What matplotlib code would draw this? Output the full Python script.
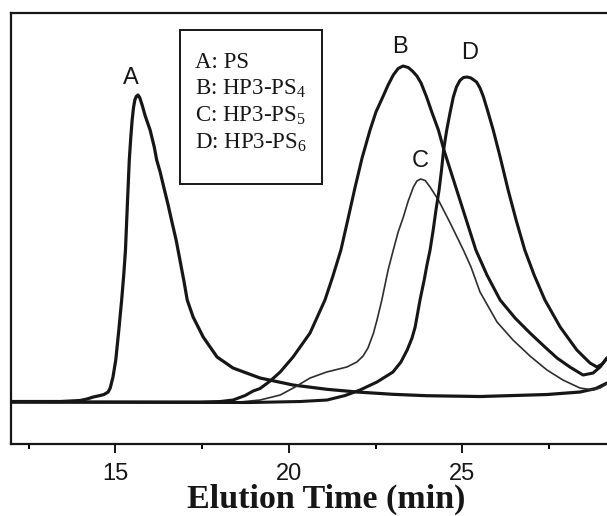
import matplotlib
matplotlib.use("Agg")
import matplotlib.pyplot as plt
from matplotlib.patches import Rectangle

# ---- data (elution time in min, detector signal in arbitrary units) ----
time_A = [12.00, 13.41, 13.98, 14.18, 14.36, 14.56, 14.67, 14.79, 14.85, 14.93, 15.01, 15.09,
          15.18, 15.24, 15.29, 15.35, 15.40, 15.44, 15.48, 15.52, 15.56, 15.60, 15.65, 15.70,
          15.77, 15.86, 16.00, 16.12, 16.19, 16.29, 16.40, 16.52, 16.63, 16.75, 16.86, 16.98,
          17.07, 17.24, 17.53, 17.93, 18.39, 19.17, 20.12, 21.10, 21.97, 23.00, 23.98, 25.51,
          27.44, 28.39, 28.85, 29.17]
signal_A = [0.5, 0.5, 1.5, 3, 5, 6.5, 7.5, 10, 14, 25, 42, 69,
            102, 127, 152, 202, 242, 263, 281, 294, 302, 305.5, 307, 304.5,
            297, 286, 272, 255, 242, 230, 214, 197, 180, 162, 142, 120,
            102, 85, 65, 45, 34, 24, 17, 12.7, 10, 7.7, 6.3, 5.5,
            7.5, 10, 13.5, 19]

time_B = [12.00, 16.00, 17.44, 18.02, 18.39, 18.74, 18.97, 19.17, 19.46, 19.75, 20.12, 20.61,
          21.04, 21.27, 21.50, 21.71, 21.91, 22.11, 22.34, 22.51, 22.72, 22.86, 23.01, 23.15,
          23.29, 23.44, 23.56, 23.69, 23.81, 23.97, 24.13, 24.31, 24.47, 24.70, 24.93, 25.16,
          25.39, 25.71, 26.09, 26.52, 26.95, 27.38, 27.73, 28.10, 28.48, 28.77, 28.97, 29.17]
signal_B = [0, 0, 0, 0.5, 2, 6.5, 11, 13.5, 21, 30, 45, 69,
            102, 126, 152, 184, 215, 244, 272, 290, 306, 317, 327, 333.5,
            336, 334.5, 331, 326, 319, 305, 289, 272, 252, 227, 202, 177,
            152, 127, 102, 84, 69, 55, 44, 35, 27, 29, 35, 44]

time_C = [12.00, 17.44, 18.59, 19.17, 19.75, 20.18, 20.61, 21.09, 21.67, 21.96, 22.14, 22.28,
          22.44, 22.54, 22.68, 22.77, 22.86, 23.01, 23.15, 23.30, 23.44, 23.59, 23.69, 23.80,
          23.93, 24.07, 24.31, 24.65, 25.03, 25.25, 25.51, 26.00, 26.46, 26.95, 27.44, 27.90,
          28.39, 28.77, 28.97, 29.17]
signal_C = [0, -0.5, 0, 2, 7, 15, 24, 30, 35, 40, 46, 54,
            69, 82, 102, 117, 132, 152, 170, 185, 201, 215, 221, 223,
            221.5, 215, 202, 179, 152, 135, 110, 80, 62, 46, 32, 22,
            14, 12, 14, 18]

time_D = [12.00, 18.88, 20.32, 21.10, 21.62, 22.05, 22.54, 23.00, 23.23, 23.41, 23.55, 23.64,
          23.78, 23.90, 23.98, 24.07, 24.16, 24.24, 24.33, 24.40, 24.46, 24.55, 24.65, 24.74,
          24.83, 24.93, 25.03, 25.14, 25.25, 25.41, 25.51, 25.61, 25.74, 25.89, 26.09, 26.32,
          26.55, 26.80, 27.07, 27.38, 27.82, 28.30, 28.68, 28.88, 29.03, 29.17]
signal_D = [0, -0.5, 0.5, 2, 6.5, 12, 20, 30, 40, 52, 64, 75,
            102, 122, 137, 152, 172, 192, 212, 232, 252, 272, 290, 305,
            315, 321.5, 324.5, 325, 324, 320, 314, 305, 290, 272, 245, 212,
            182, 152, 127, 102, 75, 52, 39, 35, 38, 44]

peak_letters = ["A", "B", "C", "D"]
legend_lines = ["A: PS", "B: HP3-PS$_4$", "C: HP3-PS$_5$", "D: HP3-PS$_6$"]
x_ticks = [15, 20, 25]
x_minor_ticks = [12.5, 17.5, 22.5, 27.5]
x_label = "Elution Time (min)"

# ---- figure ----
plt.rcParams["mathtext.fontset"] = "custom"
plt.rcParams["mathtext.rm"] = "Liberation Serif"
plt.rcParams["mathtext.it"] = "Liberation Serif"

ink = "#161616"
fig = plt.figure(figsize=(6.07, 5.16), dpi=100)
ax = fig.add_axes([0.0181, 0.1395, 0.9819, 0.8353])

ax.plot(time_A, signal_A, color=ink, lw=2.3, solid_joinstyle="round", solid_capstyle="round")
ax.plot(time_B, signal_B, color=ink, lw=2.2, solid_joinstyle="round", solid_capstyle="round")
ax.plot(time_C, signal_C, color="#2e2e2e", lw=1.2, solid_joinstyle="round")
ax.plot(time_D, signal_D, color=ink, lw=2.2, solid_joinstyle="round", solid_capstyle="round")

ax.set_xlim(11.99, 29.17)
ax.set_ylim(-42, 389)

ax.set_xticks(x_ticks)
ax.set_xticks(x_minor_ticks, minor=True)
ax.set_yticks([])
ax.tick_params(axis="x", which="major", direction="out", length=6.5, width=1.4,
               pad=7, labelsize=17, colors=ink)
ax.tick_params(axis="x", which="minor", direction="out", length=3.8, width=1.4)
for lab in ax.get_xticklabels():
    lab.set_fontfamily("Liberation Sans")

for side in ["left", "bottom", "top"]:
    ax.spines[side].set_linewidth(1.6)
    ax.spines[side].set_color(ink)
ax.spines["right"].set_visible(False)

ax.set_xlabel(x_label, fontfamily="Liberation Serif", fontweight="bold", fontsize=24.5,
              color=ink, va="baseline")
ax.xaxis.set_label_coords(0.529, -0.1485)

# peak letters
letter_pos = [(15.44, 324), (23.20, 355), (23.78, 241), (25.22, 349)]
for letter, (lx, ly) in zip(peak_letters, letter_pos):
    ax.text(lx, ly, letter, fontfamily="Liberation Sans", fontsize=17, color=ink,
            ha="center", va="center")

# legend box
ax.add_patch(Rectangle((0.2836, 0.6032), 0.2383, 0.3585, transform=ax.transAxes,
                       fill=False, lw=1.4, edgecolor=ink, zorder=5))
legend_y = [0.8863, 0.8237, 0.7610, 0.6984]
for txt, ly in zip(legend_lines, legend_y):
    ax.text(0.3087, ly, txt, transform=ax.transAxes, fontfamily="Liberation Serif",
            fontsize=16.5, color=ink, ha="left", va="center")

fig.savefig("out.png", dpi=100)
